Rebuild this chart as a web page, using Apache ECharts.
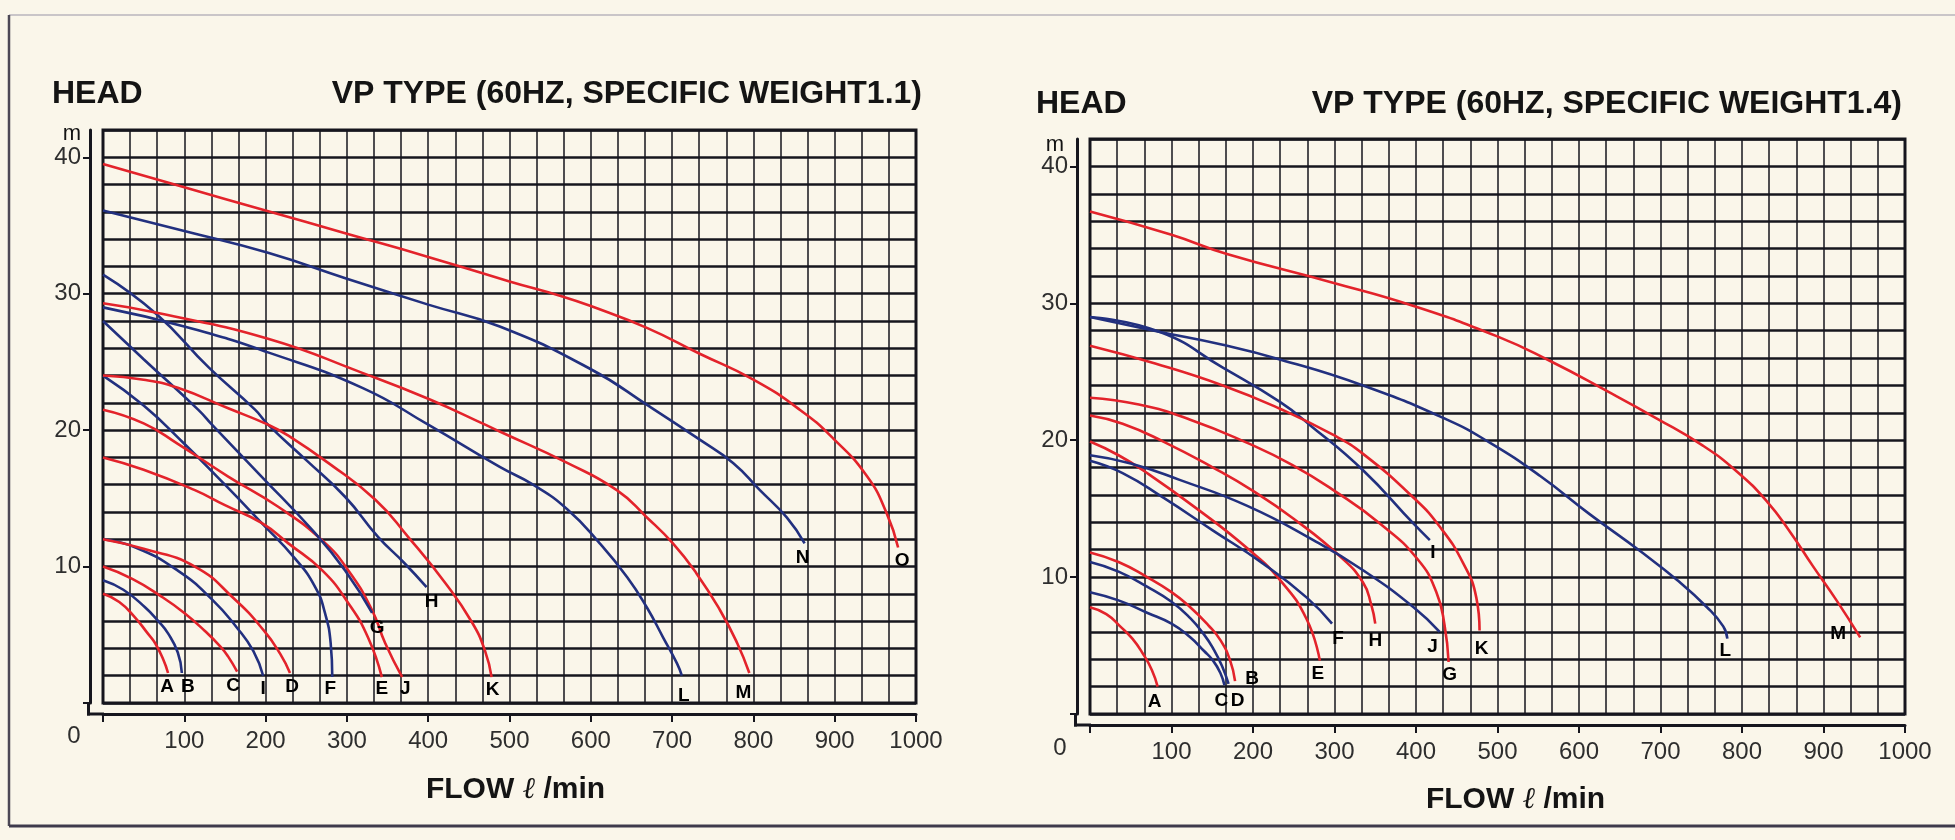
<!DOCTYPE html>
<html><head><meta charset="utf-8">
<script src="https://cdn.jsdelivr.net/npm/echarts/dist/echarts.min.js"></script>
<style>html,body{margin:0;padding:0;background:#faf6ea;}#c{width:1955px;height:840px;}</style>
</head><body><div id="c"></div>
<script>
// ---------- DATA : specific weight 1.1 (flow l/min, head m) ----------
const A11 = [[0,8.0],[20,7.4],[39,6.3],[55,5.1],[64,4.4],[74,3.2],[80,2.2]];
const B11 = [[0,9.0],[25,8.3],[52,7.0],[68,6.0],[80,5.1],[92,3.7],[97,2.2]];
const C11 = [[0,10.0],[36,9.1],[72,7.8],[100,6.6],[125,5.3],[145,4.1],[154,3.4],[165,2.3]];
const I11 = [[0,12.0],[40,11.4],[92,9.7],[134,7.6],[165,5.5],[185,3.8],[197,2.0]];
const D11 = [[0,12.0],[50,11.3],[113,10.0],[162,7.6],[198,5.3],[218,3.6],[230,2.2]];
const F11 = [[0,24.0],[50,21.8],[100,19.0],[150,16.0],[195,13.2],[236,10.6],[261,8.5],[273,6.6],[280,4.4],[282,1.9]];
const E11 = [[0,18.0],[50,17.1],[113,15.6],[150,14.5],[195,13.2],[228,11.7],[270,9.7],[302,7.3],[326,4.8],[343,1.9]];
const J11 = [[0,21.5],[50,20.5],[92,19.0],[154,16.6],[215,14.4],[270,11.9],[302,9.7],[331,6.8],[347,4.4],[368,1.9]];
const G11 = [[0,28.0],[50,25.2],[117,21.5],[134,20.4],[195,16.6],[257,12.7],[298,9.7],[331,6.6]];
const H11 = [[0,31.4],[66,28.5],[130,24.6],[187,21.5],[203,20.4],[250,17.8],[298,15.1],[338,12.2],[370,10.3],[398,8.5]];
const K11 = [[0,24.0],[50,23.7],[92,23.1],[154,21.6],[203,20.4],[228,19.6],[277,17.6],[335,14.9],[375,12.2],[421,8.8],[454,5.9],[470,3.8],[478,1.9]];
const L11 = [[0,29.0],[100,27.6],[203,25.7],[319,23.1],[400,20.4],[488,17.3],[529,16.0],[571,14.2],[611,11.7],[645,9.2],[669,7.0],[689,4.8],[706,2.9],[712,2.0]];
const M11 = [[0,29.3],[66,28.6],[203,26.7],[319,24.2],[400,22.3],[470,20.4],[488,19.9],[571,17.6],[632,15.6],[669,13.6],[701,11.7],[730,9.5],[759,6.8],[780,4.4],[795,2.2]];
const N11 = [[0,36.1],[100,34.6],[203,33.0],[300,31.1],[400,29.2],[488,27.6],[599,24.5],[673,21.7],[734,19.3],[775,17.6],[808,15.6],[841,13.6],[863,11.7]];
const O11 = [[0,39.5],[100,37.8],[200,36.1],[300,34.4],[400,32.7],[500,30.9],[565,29.8],[600,29.1],[669,27.5],[734,25.6],[800,23.7],[857,21.5],[898,19.4],[940,16.6],[964,13.9],[978,11.4]];
const NAMES11 = ['A','B','C','I','D','F','E','J','G','H','K','L','M','N','O'];
const COLORS11 = ['r','b','r','b','r','b','r','r','b','b','r','b','r','b','r'];
const CURVES11 = [A11,B11,C11,I11,D11,F11,E11,J11,G11,H11,K11,L11,M11,N11,O11];

// ---------- DATA : specific weight 1.4 ----------
const A14 = [[0,7.8],[20,7.3],[37,6.4],[52,5.5],[65,4.4],[76,3.2],[83,2.0]];
const B14 = [[0,11.8],[35,11.1],[70,10.0],[100,8.9],[123,7.8],[145,6.5],[160,5.4],[172,3.9],[178,2.4]];
const C14 = [[0,8.9],[35,8.3],[70,7.4],[100,6.6],[123,5.6],[140,4.6],[151,3.9],[160,3.0],[165,2.1]];
const D14 = [[0,11.1],[35,10.4],[70,9.3],[100,8.2],[123,7.0],[140,5.8],[151,4.8],[162,3.5],[170,2.2]];
const E14 = [[0,19.9],[35,18.9],[70,17.6],[131,15.0],[193,12.1],[233,9.8],[266,6.9],[282,3.9]];
const F14 = [[0,18.5],[40,17.6],[90,15.8],[151,13.4],[212,11.0],[266,8.5],[297,6.6]];
const G14 = [[0,23.1],[60,22.6],[123,21.5],[193,19.8],[248,18.2],[300,16.3],[356,13.9],[402,11.3],[425,8.9],[435,6.5],[440,3.8]];
const H14 = [[0,21.8],[40,21.2],[90,19.9],[151,18.0],[200,16.3],[249,14.3],[307,11.5],[335,9.6],[345,8.0],[350,6.6]];
const I14 = [[0,29.0],[86,27.9],[163,25.3],[233,22.8],[270,21.1],[335,17.8],[397,13.9],[417,12.7]];
const J14 = [[0,18.9],[50,18.3],[110,17.1],[193,15.2],[274,12.7],[335,10.5],[397,7.8],[429,6.0]];
const K14 = [[0,26.9],[80,25.6],[163,24.0],[233,22.3],[298,20.4],[335,19.0],[397,15.8],[429,13.7],[458,11.0],[474,8.5],[478,6.1]];
const L14 = [[0,29.0],[86,27.9],[160,27.0],[233,25.9],[335,24.0],[438,21.5],[491,19.8],[552,17.4],[613,14.6],[675,11.9],[720,9.8],[757,7.8],[777,6.4],[782,5.5]];
const M14 = [[0,36.7],[100,35.0],[168,33.6],[298,31.5],[397,29.8],[499,27.6],[564,25.8],[634,23.6],[695,21.6],[752,19.6],[794,17.7],[831,15.5],[859,13.3],[887,10.8],[916,8.3],[945,5.6]];
const NAMES14 = ['A','B','C','D','E','F','G','H','I','J','K','L','M'];
const COLORS14 = ['r','r','b','b','r','b','r','r','b','b','r','b','r'];
const CURVES14 = [A14,B14,C14,D14,E14,F14,G14,H14,I14,J14,K14,L14,M14];

// tick labels
const FLOW_TICKS = [100,200,300,400,500,600,700,800,900,1000];
const HEAD_TICKS = [10,20,30,40];
const TITLE11 = 'VP TYPE (60HZ, SPECIFIC WEIGHT1.1)';
const TITLE14 = 'VP TYPE (60HZ, SPECIFIC WEIGHT1.4)';

// label offsets (styling only)
const LABEL_OFF11 = {A:[-1,14],B:[6,14],C:[-4,14],I:[0,13],D:[2,14],F:[-2,12],E:[0,12],J:[3,12],G:[5,15],H:[5,15],K:[1,13],L:[2,20],M:[-6,20],N:[-2,14],O:[4,13]};
const LABEL_OFF14 = {A:[-3,15],B:[17,-2],C:[-3,16],D:[9,17],E:[-2,13],F:[6,15],G:[1,13],H:[0,17],I:[3,13],J:[-7,15],K:[2,18],L:[-2,12],M:[-22,-4]};

const RED = '#e3232b', BLUE = '#22307f', INK = '#16161e';
const FONT = '"Liberation Sans", Arial, sans-serif';

const chart = echarts.init(document.getElementById('c'), null, {renderer:'canvas'});

function xAxisFor(gi){
  return {
    type:'value', gridIndex:gi, min:0, max:1000, interval:100, offset:11,
    axisLine:{show:true, onZero:false, lineStyle:{color:INK, width:3}},
    axisTick:{show:true, length:8, lineStyle:{color:INK, width:2}},
    axisLabel:{margin:15, fontSize:24, color:'#2e2e2e', fontFamily:FONT,
      formatter:v => FLOW_TICKS.indexOf(v) >= 0 ? String(v) : ''},
    splitLine:{show:true, lineStyle:{color:INK, width:1.5}},
    minorTick:{show:false, splitNumber:3},
    minorSplitLine:{show:true, lineStyle:{color:INK, width:1.5}}
  };
}
function yGridAxis(gi){
  return {type:'value', gridIndex:gi, position:'right', min:0, max:42, interval:2,
    axisLine:{show:false}, axisTick:{show:false}, axisLabel:{show:false},
    splitLine:{show:true, lineStyle:{color:INK, width:2.5}}};
}
function yLabelAxis(gi){
  return {type:'value', gridIndex:gi, position:'left', min:0, max:42, interval:10, offset:13,
    axisLine:{show:true, onZero:false, lineStyle:{color:INK, width:3}},
    axisTick:{show:true, length:7, lineStyle:{color:INK, width:2}},
    axisLabel:{margin:9, fontSize:24, color:'#2e2e2e', fontFamily:FONT, showMaxLabel:false,
      formatter:v => HEAD_TICKS.indexOf(v) >= 0 ? String(v) : ''},
    splitLine:{show:false}};
}

function curveSeries(names, curves, colors, gi, yi){
  return names.map((n,i) => ({
    type:'line', name:n, xAxisIndex:gi, yAxisIndex:yi, data:curves[i],
    smooth:0.5, symbol:'none', showSymbol:false, silent:true, z:3,
    lineStyle:{width:2.6, color: colors[i]==='r' ? RED : BLUE}
  }));
}
function labelSeries(names, curves, offs, gi, yi){
  return {
    type:'scatter', xAxisIndex:gi, yAxisIndex:yi, symbol:'circle', symbolSize:1, silent:true, z:6,
    itemStyle:{color:'rgba(0,0,0,0)'},
    data: names.map((n,i) => ({
      value: curves[i][curves[i].length-1], name:n,
      label:{show:true, formatter:n, position:'inside', offset:offs[n],
        fontSize:19, fontWeight:'bold', color:'#000', opacity:1, textBorderWidth:0, fontFamily:FONT}
    }))
  };
}

const option = {
  backgroundColor:'#faf6ea',
  animation:false,
  grid:[
    {left:103, top:130, width:813, height:573, show:true, borderColor:INK, borderWidth:3, backgroundColor:'transparent', outerBoundsMode:'none'},
    {left:1090, top:139, width:815, height:575, show:true, borderColor:INK, borderWidth:3, backgroundColor:'transparent', outerBoundsMode:'none'}
  ],
  xAxis:[xAxisFor(0), xAxisFor(1)],
  yAxis:[yGridAxis(0), yLabelAxis(0), yGridAxis(1), yLabelAxis(1)],
  series:[].concat(
    curveSeries(NAMES11, CURVES11, COLORS11, 0, 1),
    curveSeries(NAMES14, CURVES14, COLORS14, 1, 3),
    [labelSeries(NAMES11, CURVES11, LABEL_OFF11, 0, 1), labelSeries(NAMES14, CURVES14, LABEL_OFF14, 1, 3)]
  )
};
chart.setOption(option);

// text decorations positioned from the axes
const o0 = chart.convertToPixel({xAxisIndex:0, yAxisIndex:1}, [0,0]);
const t0 = chart.convertToPixel({xAxisIndex:0, yAxisIndex:1}, [0,42]);
const r0 = chart.convertToPixel({xAxisIndex:0, yAxisIndex:1}, [1000,0]);
const o1 = chart.convertToPixel({xAxisIndex:1, yAxisIndex:3}, [0,0]);
const t1 = chart.convertToPixel({xAxisIndex:1, yAxisIndex:3}, [0,42]);
const r1 = chart.convertToPixel({xAxisIndex:1, yAxisIndex:3}, [1000,0]);

function txt(x, y, text, font, align, fill){
  return {type:'text', x:x, y:y, silent:true, z:10,
    style:{text:text, font:font, fill:fill||'#141414', align:align||'left', verticalAlign:'middle'}};
}
function seg(x1, y1, x2, y2, w, color){
  return {type:'line', silent:true, z:5, shape:{x1:x1, y1:y1, x2:x2, y2:y2},
    style:{stroke:color||INK, lineWidth:w}};
}
const titleFont = 'bold 32px ' + FONT;
const flowRich = {
  b:{fontSize:30, fontWeight:'bold', fontFamily:FONT, fill:'#141414', color:'#141414'},
  l:{fontSize:30, fontStyle:'italic', fontWeight:'normal', fontFamily:'"DejaVu Serif", serif', fill:'#141414', color:'#141414'}
};
function flowText(x, y){
  return {type:'text', x:x, y:y, silent:true, z:10,
    style:{text:'{b|FLOW }{l|ℓ}{b| /min}', rich:flowRich, align:'center', verticalAlign:'middle'}};
}
chart.setOption({graphic:[
  // scanned page edges
  seg(9, 15, 1955, 15, 1.5, '#b9b4bd'),
  seg(9, 15, 9, 826, 2.5, '#4c4856'),
  seg(9, 826, 1955, 826, 3, '#3e3a4c'),
  // axis corners (x axis line meets offset y axis line)
  seg(o0[0]-14.5, o0[1], o0[0]-14.5, o0[1]+12.5, 3),
  seg(o0[0]-16, o0[1]+11, o0[0]+1, o0[1]+11, 3),
  seg(o1[0]-14.5, o1[1], o1[0]-14.5, o1[1]+12.5, 3),
  seg(o1[0]-16, o1[1]+11, o1[0]+1, o1[1]+11, 3),
  txt(52, 94, 'HEAD', titleFont, 'left'),
  txt(r0[0]+6, 94, TITLE11, titleFont, 'right'),
  txt(1036, 104, 'HEAD', titleFont, 'left'),
  txt(r1[0]-3, 104, TITLE14, titleFont, 'right'),
  txt(t0[0]-31, t0[1]+4, 'm', '22px ' + FONT, 'center'),
  txt(t1[0]-35, t1[1]+6, 'm', '22px ' + FONT, 'center'),
  txt(o0[0]-29, o0[1]+33, '0', '24px ' + FONT, 'center', '#2e2e2e'),
  txt(o1[0]-30, o1[1]+34, '0', '24px ' + FONT, 'center', '#2e2e2e'),
  flowText((o0[0]+r0[0])/2 + 6, 790),
  flowText((o1[0]+r1[0])/2 + 18, 800)
]});
</script>
</body></html>
